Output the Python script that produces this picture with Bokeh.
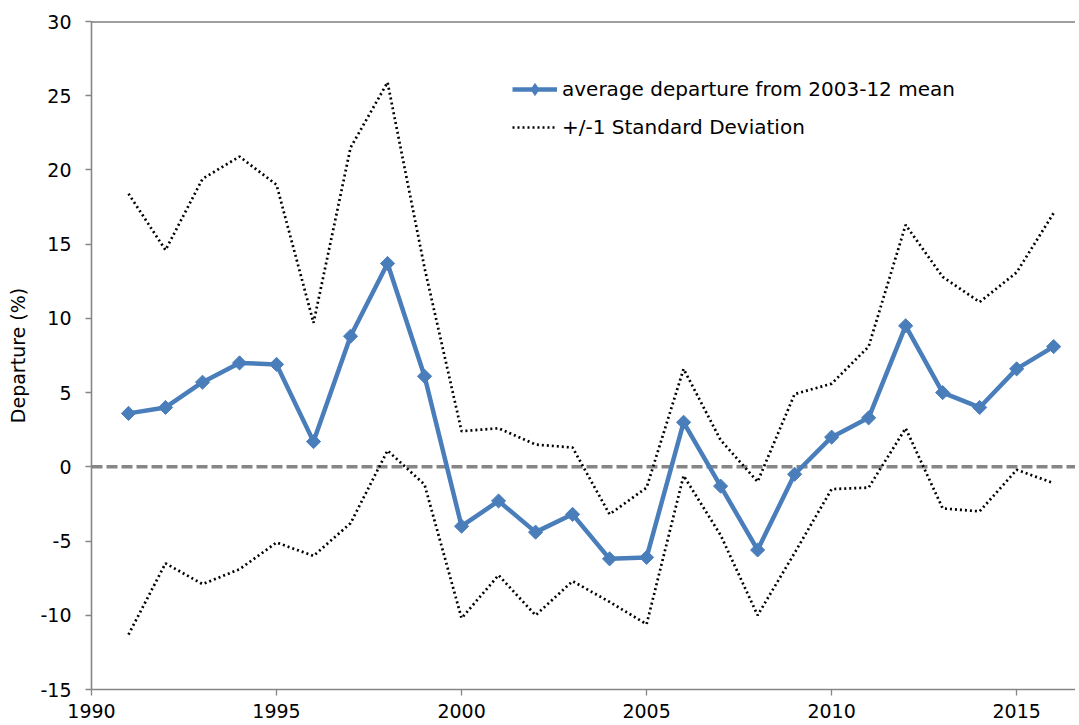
import math
from bokeh.plotting import figure
from bokeh.models import (Range1d, FixedTicker, Span, Legend, LegendItem, ColumnDataSource,
                          CustomJSTickFormatter)
from bokeh.embed import file_html
from bokeh.resources import INLINE

years = list(range(1991, 2017))
avg_departure = [3.6, 4.0, 5.7, 7.0, 6.9, 1.7, 8.8, 13.7, 6.1, -4.0,
                 -2.3, -4.4, -3.2, -6.2, -6.1, 3.0, -1.3, -5.6, -0.5, 2.0,
                 3.3, 9.5, 5.0, 4.0, 6.6, 8.1]
upper_sd = [18.4, 14.6, 19.4, 20.9, 19.0, 9.7, 21.5, 25.9, 13.4, 2.4,
            2.6, 1.5, 1.3, -3.2, -1.4, 6.6, 1.8, -1.0, 4.9, 5.6,
            8.1, 16.3, 12.8, 11.1, 13.1, 17.1]
lower_sd = [-11.3, -6.5, -7.9, -6.9, -5.1, -6.0, -3.8, 1.1, -1.2, -10.2,
            -7.3, -10.0, -7.7, -9.1, -10.6, -0.6, -4.6, -10.0, -5.8, -1.5,
            -1.4, 2.6, -2.8, -3.0, -0.2, -1.1]
x_ticks = [1990, 1995, 2000, 2005, 2010, 2015]
y_ticks = [-15, -10, -5, 0, 5, 10, 15, 20, 25, 30]

FONT = "DejaVu Sans"
BLUE = "#4A7EBB"
AXIS_GRAY = "#868686"

src = ColumnDataSource(dict(x=years, avg=avg_departure, up=upper_sd, lo=lower_sd))

p = figure(width=1075, height=723, output_backend="svg", toolbar_location=None,
           x_range=Range1d(1990, 2016.59), y_range=Range1d(-15, 30),
           min_border_left=91, min_border_right=0, min_border_top=21, min_border_bottom=34)
p.outline_line_color = None
p.grid.visible = False
p.background_fill_color = "white"

# zero reference line
zero = Span(location=0, dimension="width", line_color=AXIS_GRAY, line_width=3.5,
            line_dash="11 4", level="underlay")
p.add_layout(zero)
# top border line
top = Span(location=30, dimension="width", line_color="#404040", line_width=2)
p.add_layout(top)

r_up = p.line("x", "up", source=src, line_color="black", line_width=2.7, line_dash="2 3")
r_lo = p.line("x", "lo", source=src, line_color="black", line_width=2.7, line_dash="2 3")
r_avg = p.line("x", "avg", source=src, line_color=BLUE, line_width=4.5)
r_mk = p.scatter("x", "avg", source=src, marker="square", angle=math.pi / 4, size=10,
                 fill_color=BLUE, line_color=BLUE, line_width=1)
# legend-only diamond marker (placed outside the visible x range)
r_leg = p.scatter(x=[1980], y=[0], marker="diamond", size=13,
                  fill_color=BLUE, line_color=BLUE, line_width=1)

int_fmt = CustomJSTickFormatter(code="return tick.toFixed(0);")

# axes
for ax in (p.xaxis[0], p.yaxis[0]):
    ax.axis_line_color = AXIS_GRAY
    ax.axis_line_width = 1.6
    ax.major_tick_line_color = AXIS_GRAY
    ax.major_tick_line_width = 1.3
    ax.major_tick_out = 6
    ax.major_tick_in = 0
    ax.minor_tick_line_color = None
    ax.major_label_text_font = FONT
    ax.major_label_text_font_size = "19px"
    ax.major_label_text_color = "black"
    ax.formatter = int_fmt

p.xaxis.ticker = FixedTicker(ticks=x_ticks)
p.yaxis.ticker = FixedTicker(ticks=y_ticks)
p.xaxis.major_label_standoff = 8
p.yaxis.major_label_standoff = 14
p.yaxis.axis_label = "Departure (%)"
p.yaxis.axis_label_text_font = FONT
p.yaxis.axis_label_text_font_size = "19px"
p.yaxis.axis_label_text_font_style = "normal"
p.yaxis.axis_label_text_color = "black"
p.yaxis.axis_label_standoff = 8

legend = Legend(items=[
    LegendItem(label="average departure from 2003-12 mean", renderers=[r_avg, r_leg]),
    LegendItem(label="+/-1 Standard Deviation", renderers=[r_up]),
], location=(421, 547))
legend.padding = 0
legend.margin = 0
legend.glyph_width = 45
legend.glyph_height = 30
legend.label_height = 20
legend.spacing = 8
legend.label_standoff = 5
legend.label_text_font = FONT
legend.label_text_font_size = "20px"
legend.label_text_color = "black"
legend.background_fill_alpha = 0
legend.border_line_color = None
p.add_layout(legend)

open("out.html", "w").write(file_html(p, INLINE))
